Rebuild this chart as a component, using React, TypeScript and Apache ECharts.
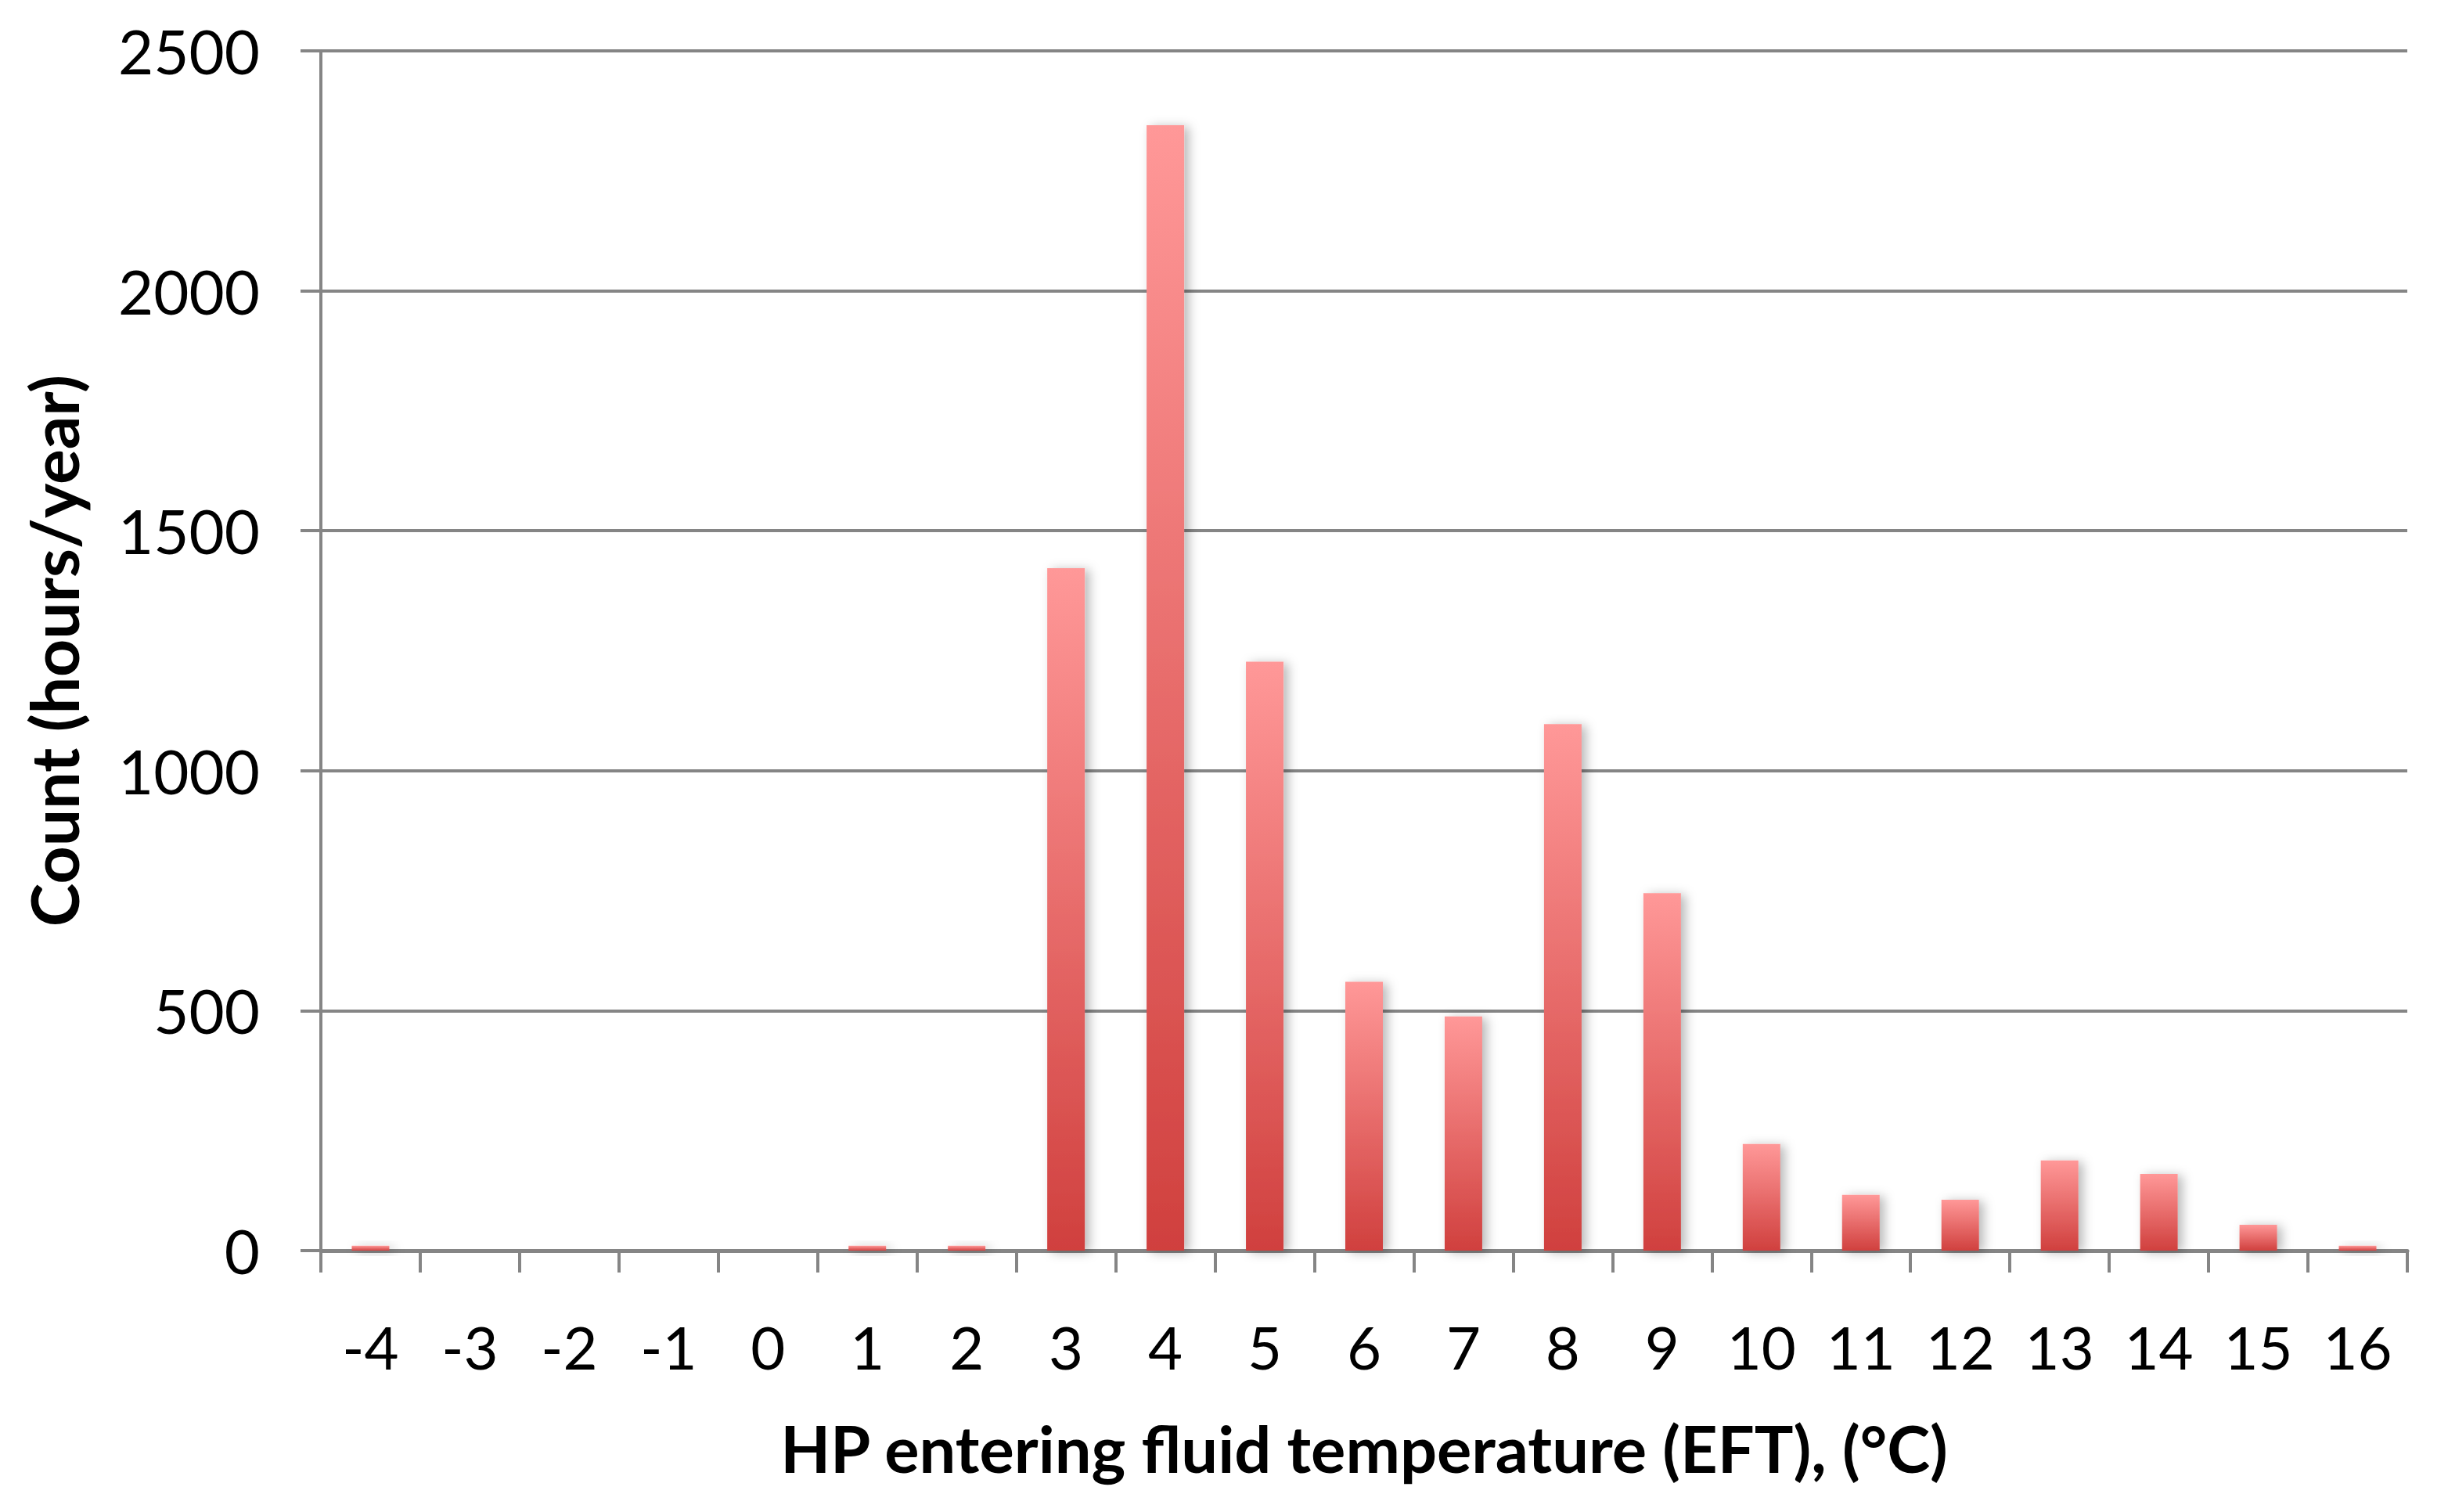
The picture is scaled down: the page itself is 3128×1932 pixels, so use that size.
import React, { useEffect, useRef } from "react";
import * as echarts from "echarts";

const categories = ["-4", "-3", "-2", "-1", "0", "1", "2", "3", "4", "5", "6", "7", "8", "9", "10", "11", "12", "13", "14", "15", "16"];
const counts = [10, 0, 0, 0, 0, 10, 10, 1422, 2345, 1227, 560, 488, 1097, 745, 222, 116, 106, 188, 160, 54, 10];
const yTicks = { min: 0, max: 2500, interval: 500 };
const xTitle = "HP entering fluid temperature (EFT), (°C)";
const yTitle = "Count (hours/year)";

export default function App() {
  const ref = useRef<HTMLDivElement>(null);
  useEffect(() => {
    document.body.style.margin = "0";
    const chart = echarts.init(ref.current!, null, { renderer: "svg" });
    const font = "Lato";
    chart.setOption({
      animation: false,
      backgroundColor: "#ffffff",
      grid: { left: 410, right: 52, top: 65, bottom: 334, containLabel: false },
      xAxis: {
        type: "category",
        data: categories,
        name: xTitle,
        nameLocation: "middle",
        nameGap: 210,
        nameTextStyle: { fontFamily: font, fontWeight: "bold", fontSize: 83, color: "#000" },
        axisLine: { show: true, lineStyle: { color: "#858585", width: 5 } },
        axisTick: { show: true, length: 28, lineStyle: { color: "#858585", width: 4 } },
        axisLabel: { fontFamily: font, fontSize: 76, color: "#000", margin: 84, interval: 0 },
      },
      yAxis: {
        type: "value",
        min: yTicks.min,
        max: yTicks.max,
        interval: yTicks.interval,
        name: yTitle,
        nameLocation: "middle",
        nameGap: 300,
        nameTextStyle: { fontFamily: font, fontWeight: "bold", fontSize: 84, color: "#000" },
        axisLine: { show: true, lineStyle: { color: "#858585", width: 4 } },
        axisTick: { show: true, length: 26, lineStyle: { color: "#858585", width: 4 } },
        axisLabel: {
          fontFamily: font,
          fontSize: 78,
          color: "#000",
          margin: 78,
          formatter: (v: number) => String(v),
        },
        splitLine: { show: true, lineStyle: { color: "#858585", width: 4 } },
      },
      series: [
        {
          type: "bar",
          data: counts,
          barWidth: 48,
          itemStyle: {
            color: new echarts.graphic.LinearGradient(0, 0, 0, 1, [
              { offset: 0, color: "#ff9898" },
              { offset: 1, color: "#d0403e" },
            ]),
            shadowColor: "rgba(0,0,0,0.28)",
            shadowBlur: 14,
            shadowOffsetX: 6,
            shadowOffsetY: 2,
          },
        },
      ],
    });
    return () => chart.dispose();
  }, []);
  return <div ref={ref} style={{ width: 3128, height: 1932 }} />;
}
